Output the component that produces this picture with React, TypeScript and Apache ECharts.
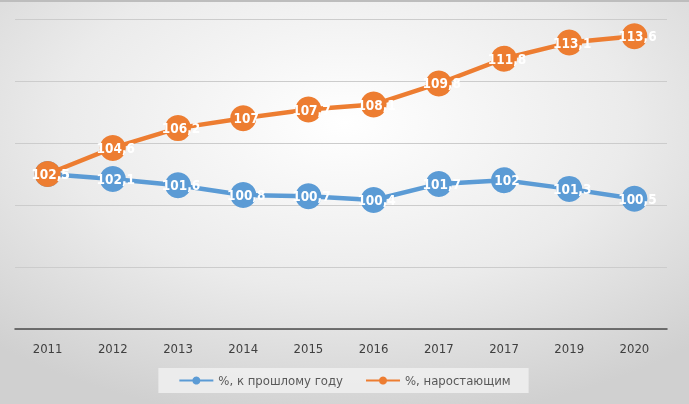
import React, { useEffect, useRef } from "react";
import * as echarts from "echarts";

const categories = ["2011", "2012", "2013", "2014", "2015", "2016", "2017", "2017", "2019", "2020"];
const prevYear = [102.5, 102.1, 101.6, 100.8, 100.7, 100.4, 101.7, 102, 101.3, 100.5];
const cumulative = [102.5, 104.6, 106.2, 107, 107.7, 108.1, 109.8, 111.8, 113.1, 113.6];
const seriesNames = ["%, к прошлому году", "%, наростающим"];

const fmt = (p: any) => String(p.value).replace(".", ",");

export default function App() {
  const ref = useRef<HTMLDivElement>(null);
  useEffect(() => {
    if (!ref.current) return;
    const chart = echarts.init(ref.current, undefined, { renderer: "svg" });
    const labelFont = "'DejaVu Sans Condensed', sans-serif";
    const labelStyle = {
      show: true,
      position: "inside",
      offset: [3, 0],
      color: "#ffffff",
      fontWeight: "bold",
      fontSize: 13.5,
      fontFamily: labelFont,
      formatter: fmt,
    };
    chart.setOption({
      animation: false,
      backgroundColor: {
        type: "radial",
        x: 0.5,
        y: 0.3,
        r: 0.75,
        colorStops: [
          { offset: 0, color: "#ffffff" },
          { offset: 0.55, color: "#ebebeb" },
          { offset: 1, color: "#d0d0d0" },
        ],
      },
      grid: { left: 15, right: 22, top: 17, bottom: 75 },
      xAxis: {
        type: "category",
        data: categories,
        boundaryGap: true,
        axisLine: { lineStyle: { color: "#4a4a4a", width: 1.5 } },
        axisTick: { show: false },
        axisLabel: {
          color: "#404040",
          fontSize: 13,
          margin: 13,
          fontFamily: labelFont,
        },
      },
      yAxis: {
        type: "value",
        min: 90,
        max: 115,
        interval: 5,
        axisLabel: { show: false },
        axisLine: { show: false },
        axisTick: { show: false },
        splitLine: { lineStyle: { color: "#cccccc", width: 1 } },
      },
      legend: {
        bottom: 11,
        left: "center",
        backgroundColor: "rgba(238,238,238,0.9)",
        padding: [6, 18, 6, 20],
        itemWidth: 34,
        itemHeight: 10,
        itemGap: 22,
        textStyle: { color: "#595959", fontSize: 13, fontFamily: labelFont },
        data: seriesNames,
      },
      series: [
        {
          name: seriesNames[0],
          type: "line",
          data: prevYear,
          symbol: "circle",
          symbolSize: 26,
          z: 2,
          lineStyle: { color: "#5B9BD5", width: 4.5 },
          itemStyle: { color: "#5B9BD5" },
          label: labelStyle,
        },
        {
          name: seriesNames[1],
          type: "line",
          data: cumulative,
          symbol: "circle",
          symbolSize: 26,
          z: 3,
          lineStyle: { color: "#ED7D31", width: 4.5 },
          itemStyle: { color: "#ED7D31" },
          label: labelStyle,
        },
      ],
    });
    return () => chart.dispose();
  }, []);
  return (
    <div
      ref={ref}
      style={{
        position: "fixed",
        left: 0,
        top: 0,
        width: 689,
        height: 404,
        boxSizing: "border-box",
        borderTop: "2px solid #bdbdbd",
      }}
    />
  );
}
